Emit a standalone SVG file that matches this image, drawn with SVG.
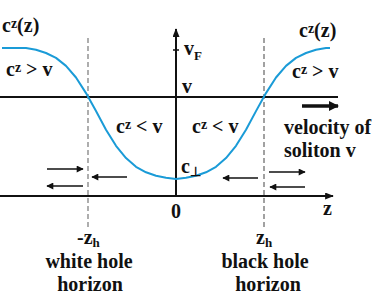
<svg xmlns="http://www.w3.org/2000/svg" width="377" height="296" viewBox="0 0 377 296">
<defs>
<style>
text{font-family:"Liberation Serif","Times New Roman",serif;font-weight:bold;font-size:20px;fill:#111}
.ax{stroke:#111;stroke-width:2;fill:none}
.ar{stroke:#111;stroke-width:1.5;fill:none;marker-end:url(#ah)}
.sub{font-size:13px}
.sup{font-size:14px}
</style>
<marker id="ah" viewBox="0 0 10 10" refX="9" refY="5" markerWidth="8" markerHeight="7" markerUnits="userSpaceOnUse" orient="auto">
<path d="M0,0 L10,5 L0,10 Z" fill="#111"/>
</marker>
<marker id="axh" viewBox="0 0 10 8" refX="9" refY="4" markerWidth="9" markerHeight="7" markerUnits="userSpaceOnUse" orient="auto">
<path d="M0,0 L10,4 L0,8 Z" fill="#111"/>
</marker>
<marker id="bigh" viewBox="0 0 10 10" refX="9" refY="5" markerWidth="10" markerHeight="11" markerUnits="userSpaceOnUse" orient="auto">
<path d="M0,0 L10,5 L0,10 Z" fill="#111"/>
</marker>
</defs>
<rect width="377" height="296" fill="#fff"/>
<g id="axes">
<line class="ax" x1="0" y1="97" x2="338" y2="97"/>
<line class="ax" x1="0" y1="196" x2="333" y2="196" marker-end="url(#axh)"/>
<line class="ax" x1="176" y1="197" x2="176" y2="29" marker-end="url(#axh)"/>
<line x1="173" y1="50" x2="179" y2="50" stroke="#111" stroke-width="1.5"/>
<line x1="88" y1="38" x2="88" y2="227" stroke="#9a9a9a" stroke-width="1.6" stroke-dasharray="5,3"/>
<line x1="264" y1="38" x2="264" y2="227" stroke="#555" stroke-width="1.1" stroke-dasharray="5,3"/>
</g>
<g id="curve">
<polyline fill="none" stroke="#1a9bd7" stroke-width="2" stroke-linejoin="round" points="2,48 26,48 36,49.8 46,53 56,57.9 66,65.9 76,77.5 86,93.1 96,111.1 106,129.7 116,145.8 126,158.1 136,166.8 146,172.3 156,175.7 166,177.8 176,179 186,177.8 196,175.7 206,172.3 216,166.8 226,158.1 236,145.8 246,129.7 256,111.1 266,93.1 276,77.5 286,65.9 296,57.9 306,53 316,49.8 326,48 330,48"/>
</g>
<g id="connectors">
<line class="ar" x1="47" y1="169" x2="83" y2="169"/>
<line class="ar" x1="83" y1="186" x2="47" y2="186"/>
<line class="ar" x1="127" y1="177" x2="92" y2="177"/>
<line class="ar" x1="258" y1="178" x2="223" y2="178"/>
<line class="ar" x1="269" y1="172" x2="305" y2="172"/>
<line class="ar" x1="305" y1="187" x2="270" y2="187"/>
<line x1="302" y1="106" x2="338" y2="106" stroke="#111" stroke-width="3.5" marker-end="url(#bigh)"/>
</g>
<g id="labels">
<text x="2" y="32">c<tspan class="sup" dy="-4">z</tspan><tspan dy="4">(z)</tspan></text>
<text x="299" y="37">c<tspan class="sup" dy="-4">z</tspan><tspan dy="4">(z)</tspan></text>
<text x="6" y="76">c<tspan class="sup" dy="-4">z</tspan><tspan dy="4"> &gt; v</tspan></text>
<text x="292" y="78">c<tspan class="sup" dy="-4">z</tspan><tspan dy="4"> &gt; v</tspan></text>
<text x="116" y="133">c<tspan class="sup" dy="-4">z</tspan><tspan dy="4"> &lt; v</tspan></text>
<text x="192" y="133">c<tspan class="sup" dy="-4">z</tspan><tspan dy="4"> &lt; v</tspan></text>
<text x="184" y="55">v<tspan class="sub" dy="5">F</tspan></text>
<text x="182" y="93">v</text>
<text x="181" y="173">c<tspan class="sub" dy="3">⊥</tspan></text>
<text x="176" y="218" text-anchor="middle">0</text>
<text x="323" y="215">z</text>
<text x="284" y="134">velocity of</text>
<text x="284" y="157">soliton v</text>
<text x="77" y="244">-z<tspan class="sub" dy="3">h</tspan></text>
<text x="89" y="268" text-anchor="middle">white hole</text>
<text x="90" y="291" text-anchor="middle">horizon</text>
<text x="256" y="244">z<tspan class="sub" dy="3">h</tspan></text>
<text x="265" y="268" text-anchor="middle">black hole</text>
<text x="268" y="291" text-anchor="middle">horizon</text>
</g>
</svg>
